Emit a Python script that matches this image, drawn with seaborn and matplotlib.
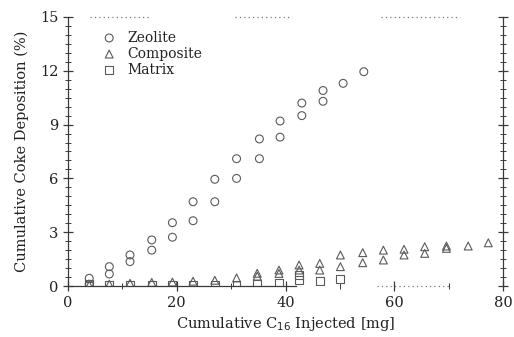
import matplotlib
matplotlib.use("Agg")
import matplotlib.pyplot as plt
import seaborn as sns
import pandas as pd
from matplotlib.ticker import MultipleLocator

# ---- data ----
zeolite_x = [3.9, 3.9, 7.6, 7.6, 11.4, 11.4, 15.4, 15.4, 19.2, 19.2, 23.0, 23.0,
             27.0, 27.0, 31.0, 31.0, 35.2, 35.2, 39.0, 39.0, 43.0, 43.0,
             46.9, 46.9, 50.6, 54.4]
zeolite_y = [0.43, 0.10, 1.08, 0.67, 1.73, 1.36, 2.57, 2.00, 3.53, 2.72, 4.70, 3.64,
             5.95, 4.70, 7.10, 6.00, 8.20, 7.10, 9.20, 8.30, 10.20, 9.50,
             10.90, 10.30, 11.30, 11.95]

composite_x = [3.9, 7.6, 11.4, 15.4, 19.2, 23.0, 27.0, 31.0, 34.8, 34.8,
               38.8, 38.8, 42.5, 42.5, 46.3, 46.3, 50.1, 50.1, 54.2, 54.2,
               58.0, 58.0, 61.8, 61.8, 65.6, 65.6, 69.6, 69.6, 73.6, 77.3]
composite_y = [0.05, 0.10, 0.15, 0.20, 0.22, 0.27, 0.32, 0.45, 0.71, 0.55,
               0.89, 0.70, 1.17, 0.89, 1.26, 0.89, 1.73, 1.08, 1.86, 1.30,
               2.00, 1.45, 2.05, 1.73, 2.19, 1.82, 2.23, 2.10, 2.23, 2.41]

matrix_x = [3.9, 3.9, 7.6, 11.4, 15.4, 19.2, 23.0, 27.0, 31.0, 34.8,
            38.8, 42.5, 42.5, 46.3, 50.1]
matrix_y = [0.00, 0.10, 0.05, 0.05, 0.05, 0.05, 0.05, 0.05, 0.08, 0.10,
            0.15, 0.35, 0.60, 0.30, 0.40]

labels = ["Zeolite", "Composite", "Matrix"]
markers = ["o", "^", "s"]

x_ticks = [0, 20, 40, 60, 80]
y_ticks = [0, 3, 6, 9, 12, 15]

df = pd.concat([
    pd.DataFrame({"x": zeolite_x, "y": zeolite_y, "mat": labels[0]}),
    pd.DataFrame({"x": composite_x, "y": composite_y, "mat": labels[1]}),
    pd.DataFrame({"x": matrix_x, "y": matrix_y, "mat": labels[2]}),
])

sns.set_style("ticks")
plt.rcParams["font.family"] = ["DejaVu Serif"]

fig = plt.figure(figsize=(5.14, 3.37), dpi=100)
ax = fig.add_axes([0.1323, 0.1513, 0.8463, 0.7983])

ink = "#3a3a3a"
mark = "#5a5a5a"
for lab, mk in zip(labels, markers):
    sub = df[df["mat"] == lab]
    sns.scatterplot(data=sub, x="x", y="y", marker=mk, s=32, ax=ax,
                    facecolor="none", edgecolor=mark, linewidth=0.8, label=lab)

ax.set_xlim(0, 80)
ax.set_ylim(0, 15)
ax.set_xticks(x_ticks)
ax.set_yticks(y_ticks)
ax.xaxis.set_minor_locator(MultipleLocator(10))
ax.yaxis.set_minor_locator(MultipleLocator(0.5))
ax.tick_params(which="both", direction="inout", left=True, right=True,
               bottom=True, top=False, colors=ink, labelcolor="#222222")
ax.tick_params(which="major", length=7, width=0.9, labelsize=10.5)
ax.tick_params(which="minor", length=5, width=0.7)

ax.spines["top"].set_visible(False)
ax.spines["bottom"].set_bounds(0, 42)
for s in ["left", "right", "bottom"]:
    ax.spines[s].set_color(ink)
    ax.spines[s].set_linewidth(0.9)

# broken (dotted) portions of the frame, as in the scan
for a, b in [(0.05, 0.19), (0.385, 0.515), (0.72, 0.9)]:
    ax.axhline(15, xmin=a, xmax=b, ls=(0, (1, 2.5)), lw=0.9, color="#777777",
               clip_on=False)
ax.axhline(0, xmin=0.71, xmax=0.88, ls=(0, (1, 2.5)), lw=0.9, color="#777777",
           clip_on=False)

ax.set_xlabel(r"Cumulative C$_{16}$ Injected [mg]", fontsize=10.5, color="#222222",
              labelpad=4)
ax.set_ylabel("Cumulative Coke Deposition (%)", fontsize=10.5, color="#222222",
              labelpad=8)

leg = ax.legend(loc="upper left", bbox_to_anchor=(0.05, 0.97), frameon=False,
                handletextpad=0.3, labelspacing=0.15, fontsize=10,
                borderaxespad=0)
for t in leg.get_texts():
    t.set_color("#222222")

fig.savefig("out.png", dpi=100)
